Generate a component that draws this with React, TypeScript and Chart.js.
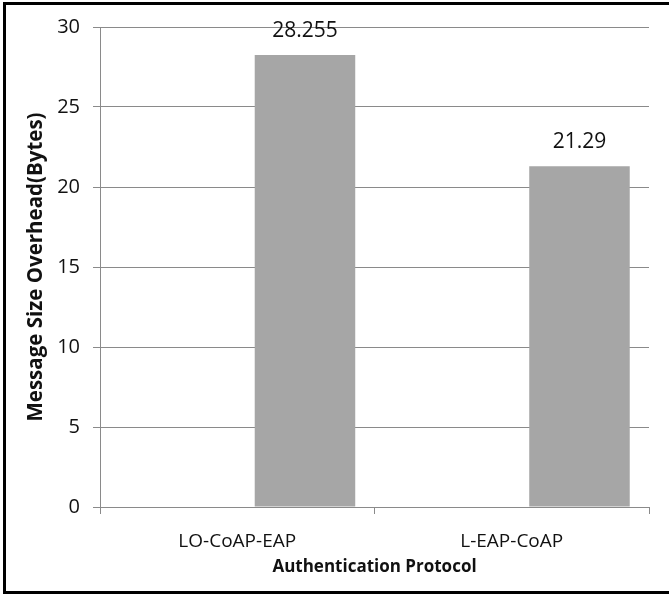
import React, { useEffect, useRef } from "react";
import { Chart, registerables } from "chart.js";

Chart.register(...registerables);

const categories = ["LO-CoAP-EAP", "L-EAP-CoAP"];
const emptySeries: (number | null)[] = [null, null];
const overheadValues = [28.255, 21.29];
const yMin = 0;
const yMax = 30;
const yStep = 5;
const yTitle = "Message Size Overhead(Bytes)";
const xTitle = "Authentication Protocol";

const FONT = "'Open Sans', 'DejaVu Sans', sans-serif";
const GRID = "#8a8a8a";

const valueLabels = {
  id: "valueLabels",
  afterDatasetsDraw(chart: any) {
    const ctx = chart.ctx;
    const meta = chart.getDatasetMeta(1);
    ctx.save();
    ctx.font = `21px ${FONT}`;
    ctx.fillStyle = "#111";
    ctx.textAlign = "center";
    ctx.textBaseline = "alphabetic";
    meta.data.forEach((el: any, i: number) => {
      ctx.fillText(String(overheadValues[i]), el.x, el.y - 18);
    });
    ctx.restore();
  },
};

export default function App() {
  const ref = useRef<HTMLCanvasElement | null>(null);

  useEffect(() => {
    if (!ref.current) return;
    const chart = new Chart(ref.current, {
      type: "bar",
      data: {
        labels: categories,
        datasets: [
          {
            label: "spacer",
            data: emptySeries,
            backgroundColor: "rgba(0,0,0,0)",
          },
          {
            label: "Message Size Overhead",
            data: overheadValues,
            backgroundColor: "#a6a6a6",
            borderWidth: 0,
          },
        ],
      },
      options: {
        responsive: false,
        animation: false,
        devicePixelRatio: 1,
        datasets: {
          bar: { categoryPercentage: 0.987, barPercentage: 0.742 },
        },
        layout: { padding: { top: 27, right: 20, bottom: 0, left: 0 } },
        plugins: {
          legend: { display: false },
          tooltip: { enabled: false },
          title: { display: false },
        },
        scales: {
          x: {
            offset: true,
            grid: {
              offset: true,
              drawOnChartArea: false,
              drawTicks: true,
              tickLength: 7,
              color: GRID,
            },
            border: { color: GRID, width: 1 },
            ticks: {
              padding: 16,
              color: "#111",
              font: { family: FONT, size: 19 },
            },
            title: {
              display: true,
              text: xTitle,
              color: "#111",
              font: { family: FONT, size: 17, weight: "bold" },
              padding: { top: 0, bottom: 18 },
            },
            afterFit(scale: any) {
              scale.height = 88;
            },
          },
          y: {
            min: yMin,
            max: yMax,
            ticks: {
              stepSize: yStep,
              padding: 13,
              color: "#111",
              font: { family: FONT, size: 20 },
            },
            grid: { color: GRID, tickLength: 7, drawTicks: true },
            border: { color: GRID, width: 1 },
            title: {
              display: true,
              text: yTitle,
              color: "#111",
              font: { family: FONT, size: 20.5, weight: "bold" },
              padding: { top: 24, bottom: 0 },
            },
            afterFit(scale: any) {
              scale.width = 100;
            },
          },
        },
      },
      plugins: [valueLabels],
    });
    return () => chart.destroy();
  }, []);

  return (
    <div
      style={{
        position: "fixed",
        left: 0,
        top: 0,
        width: 669,
        height: 595,
        background: "#fff",
        overflow: "hidden",
      }}
    >
      <canvas
        ref={ref}
        width={669}
        height={595}
        style={{ position: "absolute", left: 0, top: 0, width: 669, height: 595 }}
      />
      <div
        style={{
          position: "absolute",
          left: 3,
          top: 2,
          width: 680,
          height: 586,
          borderTop: "3px solid #000",
          borderLeft: "3px solid #000",
          borderBottom: "3px solid #000",
          pointerEvents: "none",
        }}
      />
    </div>
  );
}
